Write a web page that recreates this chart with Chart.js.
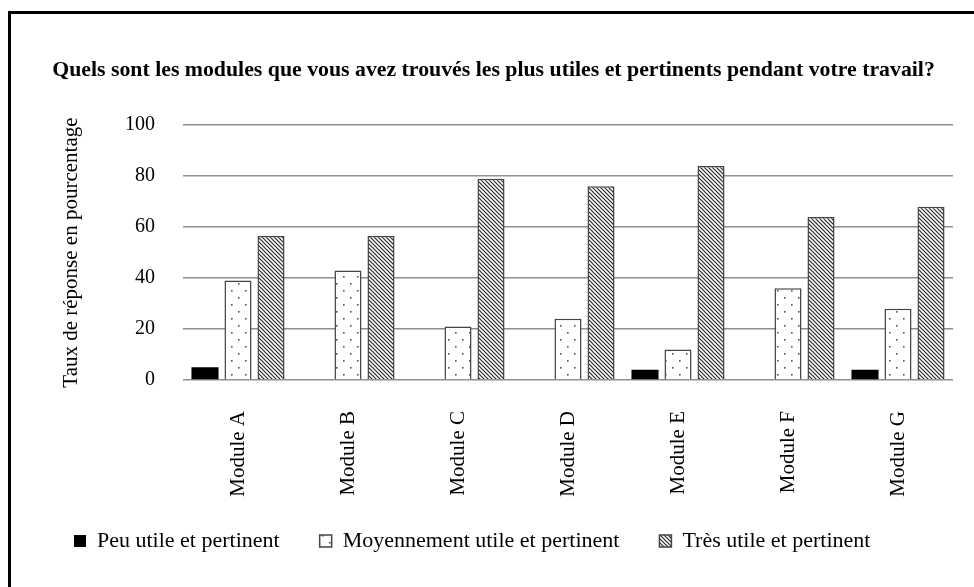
<!DOCTYPE html>
<html>
<head>
<meta charset="utf-8">
<script src="https://cdn.jsdelivr.net/npm/chart.js@4/dist/chart.umd.min.js"></script>
<style>
  html, body { margin: 0; padding: 0; background: #fff; }
  #frame {
    position: absolute; left: 8px; top: 11px;
    width: 963px; height: 573px;
    border-left: 3px solid #000; border-top: 3px solid #000;
  }
  #chart { display: block; }
</style>
</head>
<body>
<div id="frame"><canvas id="chart" width="963" height="573"></canvas></div>
<script>
/* data */
const modules = ['Module A', 'Module B', 'Module C', 'Module D', 'Module E', 'Module F', 'Module G'];
const seriesNames = ['Peu utile et pertinent', 'Moyennement utile et pertinent', 'Très utile et pertinent'];
const peuUtile = [5, 0, 0, 0, 4, 0, 4];
const moyennementUtile = [39, 43, 21, 24, 12, 36, 28];
const tresUtile = [56.5, 56.5, 79, 76, 84, 64, 68];
const yTicks = [0, 20, 40, 60, 80, 100];

const FONT = "'Liberation Serif', 'Times New Roman', serif";
Chart.defaults.font.family = FONT;
Chart.defaults.font.size = 20;
Chart.defaults.color = '#000';

/* fill patterns like the print version */
function dotPattern() {
    const c = document.createElement('canvas');
    c.width = 14; c.height = 14;
    const g = c.getContext('2d');
    g.fillStyle = '#fff';
    g.fillRect(0, 0, 14, 14);
    g.fillStyle = '#555';
    g.fillRect(3, 3, 1.6, 1.6);
    g.fillRect(10, 10, 1.6, 1.6);
    return g.createPattern(c, 'repeat');
}

function hatchPattern() {
    const s = 4;
    const c = document.createElement('canvas');
    c.width = s; c.height = s;
    const g = c.getContext('2d');
    g.fillStyle = '#fff';
    g.fillRect(0, 0, s, s);
    g.strokeStyle = '#2a2a2a';
    g.lineWidth = 1.2;
    g.beginPath();
    g.moveTo(-1, -1); g.lineTo(s + 1, s + 1);
    g.moveTo(-1, s - 1); g.lineTo(1, s + 1);
    g.moveTo(s - 1, -1); g.lineTo(s + 1, 1);
    g.stroke();
    return g.createPattern(c, 'repeat');
}

// legend sits a bit closer to the rotated labels than Chart.js puts it
const liftLegend = {
    id: 'liftLegend',
    afterLayout(chart) {
        chart.legend.top -= 10;
        chart.legend.bottom -= 10;
    }
};

const ctx = document.getElementById('chart');

new Chart(ctx, {
    type: 'bar',
    data: {
        labels: modules,
        datasets: [
            {
                label: seriesNames[0],
                data: peuUtile,
                backgroundColor: '#000',
                borderColor: '#000',
                borderWidth: 0
            },
            {
                label: seriesNames[1],
                data: moyennementUtile,
                backgroundColor: dotPattern(),
                borderColor: '#444',
                borderWidth: 1.5,
                borderSkipped: 'bottom'
            },
            {
                label: seriesNames[2],
                data: tresUtile,
                backgroundColor: hatchPattern(),
                borderColor: '#444',
                borderWidth: 1.5,
                borderSkipped: 'bottom'
            }
        ]
    },
    plugins: [liftLegend],
    options: {
        responsive: false,
        animation: false,
        categoryPercentage: 0.9,
        barPercentage: 0.82,
        layout: { padding: { left: 23, right: 21, top: 0, bottom: 15 } },
        scales: {
            x: {
                grid: { display: false },
                border: { display: false },
                ticks: { maxRotation: 90, minRotation: 90, padding: 23, font: { size: 21 } },
                afterFit: scale => { scale.height = 120; }
            },
            y: {
                min: 0,
                max: 100,
                afterBuildTicks: scale => { scale.ticks = yTicks.map(v => ({ value: v })); },
                afterFit: scale => { scale.width = 149; },
                grid: { color: '#8f8f8f', lineWidth: 1.5, drawTicks: false },
                border: { display: false },
                ticks: { padding: 28, font: { size: 20 } },
                title: {
                    display: true,
                    text: 'Taux de réponse en pourcentage',
                    font: { size: 21 },
                    padding: { top: 25, bottom: 0 }
                }
            }
        },
        plugins: {
            title: {
                display: true,
                text: 'Quels sont les modules que vous avez trouvés les plus utiles et pertinents pendant votre travail?',
                font: { size: 21.8, weight: 'bold' },
                color: '#000',
                padding: { top: 43, bottom: 42 }
            },
            legend: {
                position: 'bottom',
                align: 'start',
                labels: { boxWidth: 12, boxHeight: 12, padding: 40, font: { size: 22 } }
            },
            tooltip: { enabled: false }
        }
    }
});
</script>
</body>
</html>
